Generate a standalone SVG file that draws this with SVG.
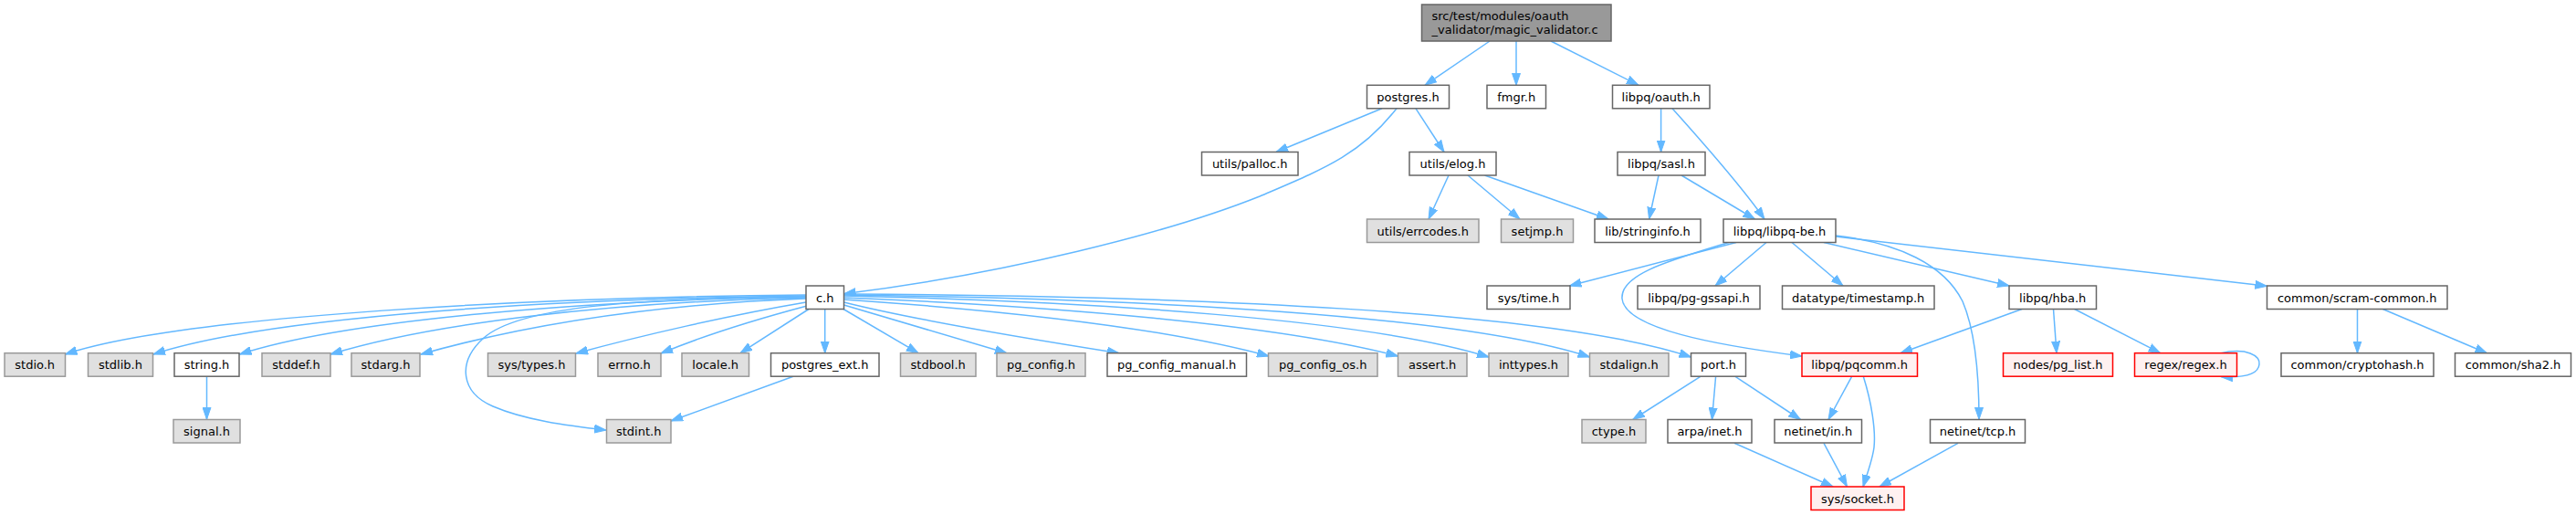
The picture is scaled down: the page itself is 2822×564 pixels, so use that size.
<svg xmlns="http://www.w3.org/2000/svg" width="2822" height="564" viewBox="0 0 2822 564">
<style>
rect{stroke-width:1.5}
.w{fill:#ffffff;stroke:#666666}
.g{fill:#e0e0e0;stroke:#999999}
.r{fill:#fff0f0;stroke:#ff0000}
.root{fill:#999999;stroke:#666666}
text{font-family:"DejaVu Sans","Liberation Sans",sans-serif;font-size:13px;fill:#000000;text-anchor:middle}
text.l{text-anchor:start}
#edges path{fill:none;stroke:#63b8ff;stroke-width:1.5;marker-end:url(#arr)}
</style>
<defs>
<marker id="arr" markerUnits="userSpaceOnUse" markerWidth="14" markerHeight="10" refX="13" refY="5" orient="auto">
<path d="M0,0.5 L13,5 L0,9.5 z" fill="#63b8ff" stroke="#63b8ff" stroke-width="1"/>
</marker>
</defs>
<rect width="2822" height="564" fill="#ffffff"/>
<g id="edges">
<path d="M1632,45 L1561,93.3"/>
<path d="M1661,45 L1661,93.3"/>
<path d="M1699,45 L1795,93.3"/>
<path d="M1514,118.8 L1398,166.5"/>
<path d="M1530,118.8 C1490,170 1450,185 1380,215 C1280,255 1100,300 924.5,321.7"/>
<path d="M1551,118.8 L1582,166.5"/>
<path d="M1819.6,118.8 L1819.6,166.5"/>
<path d="M1832,118.8 C1860,150 1905,200 1933,240"/>
<path d="M1587,192 L1565,240"/>
<path d="M1608,192 L1665,240"/>
<path d="M1626.5,192 L1762,240"/>
<path d="M1817,192 L1806.6,240"/>
<path d="M1842,192 L1922.5,240"/>
<path d="M1902,265.5 L1719.4,313"/>
<path d="M1935,265.5 L1879,313"/>
<path d="M1963,265.5 L2019,313"/>
<path d="M1998,265.5 L2201,313"/>
<path d="M2011,259 L2483.5,313.3"/>
<path d="M2011,258 C2080,266 2130,290 2150,330 C2165,365 2168,420 2168,459.3"/>
<path d="M1894,265.5 C1830,285 1775,300 1777,327 C1780,360 1880,378 1974,390"/>
<path d="M2215,338.5 L2082,386.7"/>
<path d="M2249.5,338.5 L2253,386.7"/>
<path d="M2272.6,338.5 L2366.7,386.7"/>
<path d="M2432,387 C2462,380 2476,390 2475,399 C2474,410 2460,414 2433,412.5"/>
<path d="M2582.5,338.5 L2582.5,386.7"/>
<path d="M2610.4,338.5 L2724.3,386.7"/>
<path d="M226.5,412.3 L226.5,459.3"/>
<path d="M869,412.3 L735,461"/>
<path d="M883,325 C700,327 570,335 530,370 C500,397 505,430 540,445 C575,460 620,466 664,471"/>
<path d="M883,323 C600,325 200,345 71.5,388"/>
<path d="M883,324 C620,327 300,345 168,388"/>
<path d="M883,325 C640,329 380,350 262.5,388"/>
<path d="M883,326 C660,331 470,355 362,388"/>
<path d="M883,327 C700,334 560,360 461,388"/>
<path d="M883,331 C800,345 700,368 631,387"/>
<path d="M884,335 C820,352 760,372 724,387"/>
<path d="M886,338.5 L811,386.7"/>
<path d="M903.7,338.5 L903.7,386.7"/>
<path d="M924,338.5 L1006,386.7"/>
<path d="M924.5,334 L1103,386.7"/>
<path d="M924.5,331 C1000,350 1120,370 1226,386.7"/>
<path d="M924.5,328 C1100,340 1280,360 1390,390"/>
<path d="M924.5,326 C1150,335 1400,355 1531.5,390"/>
<path d="M924.5,324 C1200,330 1500,350 1631,391"/>
<path d="M924.5,323 C1250,327 1600,345 1741.5,391"/>
<path d="M924.5,322 C1300,324 1700,340 1852.5,391"/>
<path d="M1862.8,412.3 L1788.8,459.5"/>
<path d="M1879.6,412.3 L1875.5,459.5"/>
<path d="M1901,412.3 L1972.4,459.5"/>
<path d="M2028.6,412.3 L2003,459.5"/>
<path d="M2041.3,412.3 C2050,440 2055,470 2053,490 C2051,505 2045,520 2041,533"/>
<path d="M1900,485.3 L2008,533"/>
<path d="M1998,485.3 L2023.5,533"/>
<path d="M2145,485.3 L2059,533"/>
</g>
<g id="n_main"><rect class="root" x="1557.5" y="5" width="207.5" height="40"/><text class="l" x="1568.5" y="21.5">src/test/modules/oauth</text><text class="l" x="1568.5" y="37">_validator/magic_validator.c</text></g>
<g id="n_postgres"><rect class="w" x="1497.5" y="93.3" width="90" height="25.5"/><text x="1542.5" y="110.8">postgres.h</text></g>
<g id="n_fmgr"><rect class="w" x="1629" y="93.3" width="64.5" height="25.5"/><text x="1661.2" y="110.8">fmgr.h</text></g>
<g id="n_oauth"><rect class="w" x="1766.5" y="93.3" width="106.5" height="25.5"/><text x="1819.7" y="110.8">libpq/oauth.h</text></g>
<g id="n_palloc"><rect class="w" x="1316.5" y="166.5" width="105.5" height="25.5"/><text x="1369.2" y="184">utils/palloc.h</text></g>
<g id="n_elog"><rect class="w" x="1544" y="166.5" width="95" height="25.5"/><text x="1591.5" y="184">utils/elog.h</text></g>
<g id="n_sasl"><rect class="w" x="1772" y="166.5" width="96" height="25.5"/><text x="1820" y="184">libpq/sasl.h</text></g>
<g id="n_errcodes"><rect class="g" x="1497.5" y="240" width="122.5" height="25.5"/><text x="1558.7" y="257.5">utils/errcodes.h</text></g>
<g id="n_setjmp"><rect class="g" x="1644.5" y="240" width="79" height="25.5"/><text x="1684" y="257.5">setjmp.h</text></g>
<g id="n_stringinfo"><rect class="w" x="1747" y="240" width="116" height="25.5"/><text x="1805" y="257.5">lib/stringinfo.h</text></g>
<g id="n_libpqbe"><rect class="w" x="1888" y="240" width="123" height="25.5"/><text x="1949.5" y="257.5">libpq/libpq-be.h</text></g>
<g id="n_c"><rect class="w" x="883" y="313" width="41.5" height="25.5"/><text x="903.7" y="330.5">c.h</text></g>
<g id="n_systime"><rect class="w" x="1629" y="313" width="91" height="25.5"/><text x="1674.5" y="330.5">sys/time.h</text></g>
<g id="n_gssapi"><rect class="w" x="1794" y="313" width="134" height="25.5"/><text x="1861" y="330.5">libpq/pg-gssapi.h</text></g>
<g id="n_timestamp"><rect class="w" x="1952.5" y="313" width="166.5" height="25.5"/><text x="2035.7" y="330.5">datatype/timestamp.h</text></g>
<g id="n_hba"><rect class="w" x="2201" y="313" width="95.5" height="25.5"/><text x="2248.7" y="330.5">libpq/hba.h</text></g>
<g id="n_scram"><rect class="w" x="2483.5" y="313" width="197.5" height="25.5"/><text x="2582.2" y="330.5">common/scram-common.h</text></g>
<g id="n_stdio"><rect class="g" x="5" y="386.7" width="66.5" height="25.5"/><text x="38.2" y="404.2">stdio.h</text></g>
<g id="n_stdlib"><rect class="g" x="96.5" y="386.7" width="71" height="25.5"/><text x="132" y="404.2">stdlib.h</text></g>
<g id="n_string"><rect class="w" x="191" y="386.7" width="71" height="25.5"/><text x="226.5" y="404.2">string.h</text></g>
<g id="n_stddef"><rect class="g" x="287" y="386.7" width="75" height="25.5"/><text x="324.5" y="404.2">stddef.h</text></g>
<g id="n_stdarg"><rect class="g" x="385" y="386.7" width="75" height="25.5"/><text x="422.5" y="404.2">stdarg.h</text></g>
<g id="n_systypes"><rect class="g" x="534.5" y="386.7" width="96" height="25.5"/><text x="582.5" y="404.2">sys/types.h</text></g>
<g id="n_errno"><rect class="g" x="655" y="386.7" width="69" height="25.5"/><text x="689.5" y="404.2">errno.h</text></g>
<g id="n_locale"><rect class="g" x="747" y="386.7" width="73.5" height="25.5"/><text x="783.7" y="404.2">locale.h</text></g>
<g id="n_pgext"><rect class="w" x="844.5" y="386.7" width="118.5" height="25.5"/><text x="903.7" y="404.2">postgres_ext.h</text></g>
<g id="n_stdbool"><rect class="g" x="986.5" y="386.7" width="82.5" height="25.5"/><text x="1027.7" y="404.2">stdbool.h</text></g>
<g id="n_pgconfig"><rect class="g" x="1092" y="386.7" width="97" height="25.5"/><text x="1140.5" y="404.2">pg_config.h</text></g>
<g id="n_pgmanual"><rect class="w" x="1213" y="386.7" width="152.5" height="25.5"/><text x="1289.2" y="404.2">pg_config_manual.h</text></g>
<g id="n_pgos"><rect class="g" x="1389.5" y="386.7" width="119.5" height="25.5"/><text x="1449.2" y="404.2">pg_config_os.h</text></g>
<g id="n_assert"><rect class="g" x="1531.5" y="386.7" width="75.5" height="25.5"/><text x="1569.2" y="404.2">assert.h</text></g>
<g id="n_inttypes"><rect class="g" x="1631" y="386.7" width="87" height="25.5"/><text x="1674.5" y="404.2">inttypes.h</text></g>
<g id="n_stdalign"><rect class="g" x="1741.5" y="386.7" width="86.5" height="25.5"/><text x="1784.7" y="404.2">stdalign.h</text></g>
<g id="n_port"><rect class="w" x="1852.5" y="386.7" width="60" height="25.5"/><text x="1882.5" y="404.2">port.h</text></g>
<g id="n_pqcomm"><rect class="r" x="1974" y="386.7" width="126.5" height="25.5"/><text x="2037.2" y="404.2">libpq/pqcomm.h</text></g>
<g id="n_pglist"><rect class="r" x="2194.5" y="386.7" width="120" height="25.5"/><text x="2254.5" y="404.2">nodes/pg_list.h</text></g>
<g id="n_regex"><rect class="r" x="2338.5" y="386.7" width="112" height="25.5"/><text x="2394.5" y="404.2">regex/regex.h</text></g>
<g id="n_cryptohash"><rect class="w" x="2499" y="386.7" width="167" height="25.5"/><text x="2582.5" y="404.2">common/cryptohash.h</text></g>
<g id="n_sha2"><rect class="w" x="2689.5" y="386.7" width="127" height="25.5"/><text x="2753" y="404.2">common/sha2.h</text></g>
<g id="n_signal"><rect class="g" x="190" y="459.5" width="73" height="25.5"/><text x="226.5" y="477">signal.h</text></g>
<g id="n_stdint"><rect class="g" x="664.5" y="459.5" width="70.5" height="25.5"/><text x="699.7" y="477">stdint.h</text></g>
<g id="n_ctype"><rect class="g" x="1733" y="459.5" width="70" height="25.5"/><text x="1768" y="477">ctype.h</text></g>
<g id="n_arpa"><rect class="w" x="1827" y="459.5" width="92" height="25.5"/><text x="1873" y="477">arpa/inet.h</text></g>
<g id="n_netin"><rect class="w" x="1944" y="459.5" width="95.5" height="25.5"/><text x="1991.7" y="477">netinet/in.h</text></g>
<g id="n_nettcp"><rect class="w" x="2114.5" y="459.5" width="104" height="25.5"/><text x="2166.5" y="477">netinet/tcp.h</text></g>
<g id="n_socket"><rect class="r" x="1984" y="533" width="102" height="25.5"/><text x="2035" y="550.5">sys/socket.h</text></g>
</svg>
